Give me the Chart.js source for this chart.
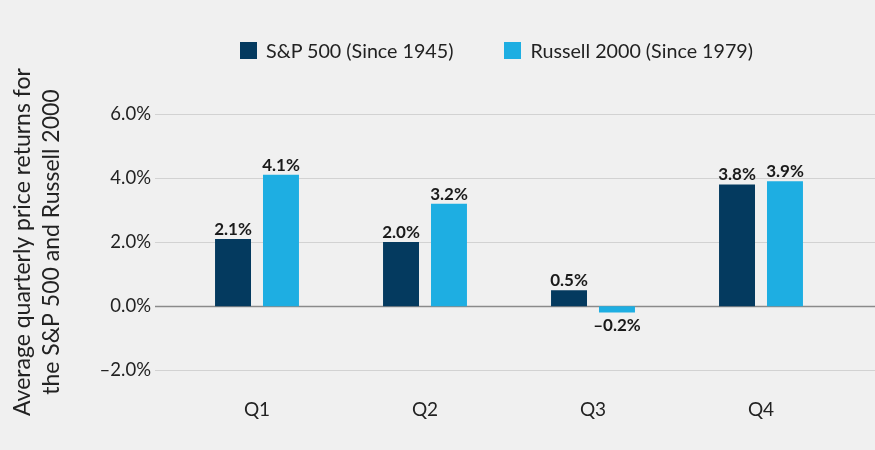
<!DOCTYPE html>
<html>
<head>
<meta charset="utf-8">
<script src="https://cdn.jsdelivr.net/npm/chart.js@4/dist/chart.umd.min.js"></script>
<style>
  html, body { margin: 0; padding: 0; background: #f0f0f0; }
  #wrap { position: relative; width: 875px; height: 450px; font-family: Lato, 'Noto Sans', sans-serif; }
  #legend { position: absolute; left: 240px; top: 41px; display: flex; gap: 51px; }
  .item { display: flex; align-items: center; font-size: 19.7px; color: #222; line-height: 19px; }
  .swatch { width: 17px; height: 17px; margin-right: 9px; }
</style>
</head>
<body>
<div id="wrap">
  <div id="legend"></div>
  <canvas id="chart" width="875" height="450"></canvas>
</div>
<script>
/* ── data ── */
const quarters     = ['Q1', 'Q2', 'Q3', 'Q4'];
const sp500        = [2.1, 2.0, 0.5, 3.8];
const russell2000  = [4.1, 3.2, -0.2, 3.9];
const seriesNames  = ['S&P 500 (Since 1945)', 'Russell 2000 (Since 1979)'];
const yTicks       = [-2, 0, 2, 4, 6];

const COLORS = { sp: '#043a5f', russell: '#1eaee2' };
const FONT   = 'Lato, "Noto Sans", sans-serif';

function fmtPct(v) {
  const s = Math.abs(v).toFixed(1) + '%';
  return v < 0 ? '\u2013' + s : s;
}

/* horizontal grid lines across the full width */
const gridPlugin = {
  id: 'wideGrid',
  beforeDatasetsDraw(chart) {
    const { ctx } = chart;
    const y = chart.scales.y;
    ctx.save();
    yTicks.forEach((t) => {
      const py = Math.round(y.getPixelForValue(t)) + 0.5;
      ctx.strokeStyle = t === 0 ? '#8a8a8a' : '#d2d2d2';
      ctx.lineWidth   = t === 0 ? 1.5 : 1;
      ctx.beginPath();
      ctx.moveTo(155, py);
      ctx.lineTo(chart.width, py);
      ctx.stroke();
    });
    ctx.restore();
  },
};

/* value labels on bars */
const valuePlugin = {
  id: 'values',
  afterDatasetsDraw(chart) {
    const { ctx } = chart;
    ctx.save();
    ctx.font = `bold 17px ${FONT}`;
    ctx.fillStyle = '#1a1a1a';
    ctx.textAlign = 'center';
    chart.data.datasets.forEach((ds, i) => {
      chart.getDatasetMeta(i).data.forEach((bar, j) => {
        const v = ds.data[j];
        if (v >= 0) {
          ctx.textBaseline = 'bottom';
          ctx.fillText(fmtPct(v), bar.x, bar.y - 1);
        } else {
          ctx.textBaseline = 'top';
          ctx.fillText(fmtPct(v), bar.x, bar.y + 4);
        }
      });
    });
    ctx.restore();
  },
};

const chart = new Chart(document.getElementById('chart'), {
  type: 'bar',
  data: {
    labels: quarters,
    datasets: [
      { label: seriesNames[0], data: sp500,       backgroundColor: COLORS.sp },
      { label: seriesNames[1], data: russell2000, backgroundColor: COLORS.russell },
    ],
  },
  options: {
    responsive: false,
    animation: false,
    categoryPercentage: 0.571,
    barPercentage: 0.75,
    layout: { padding: { top: 114, right: 30, bottom: 0, left: 0 } },
    plugins: {
      legend:  { display: false },
      tooltip: { enabled: false },
    },
    scales: {
      x: {
        grid:   { display: false, drawTicks: false },
        border: { display: false },
        ticks:  { color: '#222', font: { family: FONT, size: 19 }, padding: 28.5 },
      },
      y: {
        min: -2,
        max: 6,
        afterFit: (s) => { s.width = 173; },
        afterBuildTicks: (s) => { s.ticks = yTicks.map((v) => ({ value: v })); },
        grid:   { display: false, drawTicks: false },
        border: { display: false },
        ticks:  {
          color: '#222',
          font: { family: FONT, size: 18.5 },
          padding: 22,
          callback: (v) => fmtPct(v),
        },
        title: {
          display: true,
          text: ['Average quarterly price returns for', 'the S&P 500 and Russell 2000'],
          color: '#222',
          font: { family: FONT, size: 23, lineHeight: 1.25 },
          padding: { top: 8, bottom: 0 },
        },
      },
    },
  },
  plugins: [gridPlugin, valuePlugin],
});

/* html legend */
const legend = document.getElementById('legend');
chart.data.datasets.forEach((ds) => {
  const item = document.createElement('div');
  item.className = 'item';
  item.innerHTML = `<span class="swatch" style="background:${ds.backgroundColor}"></span>`;
  item.appendChild(document.createTextNode(ds.label));
  legend.appendChild(item);
});
</script>
</body>
</html>
